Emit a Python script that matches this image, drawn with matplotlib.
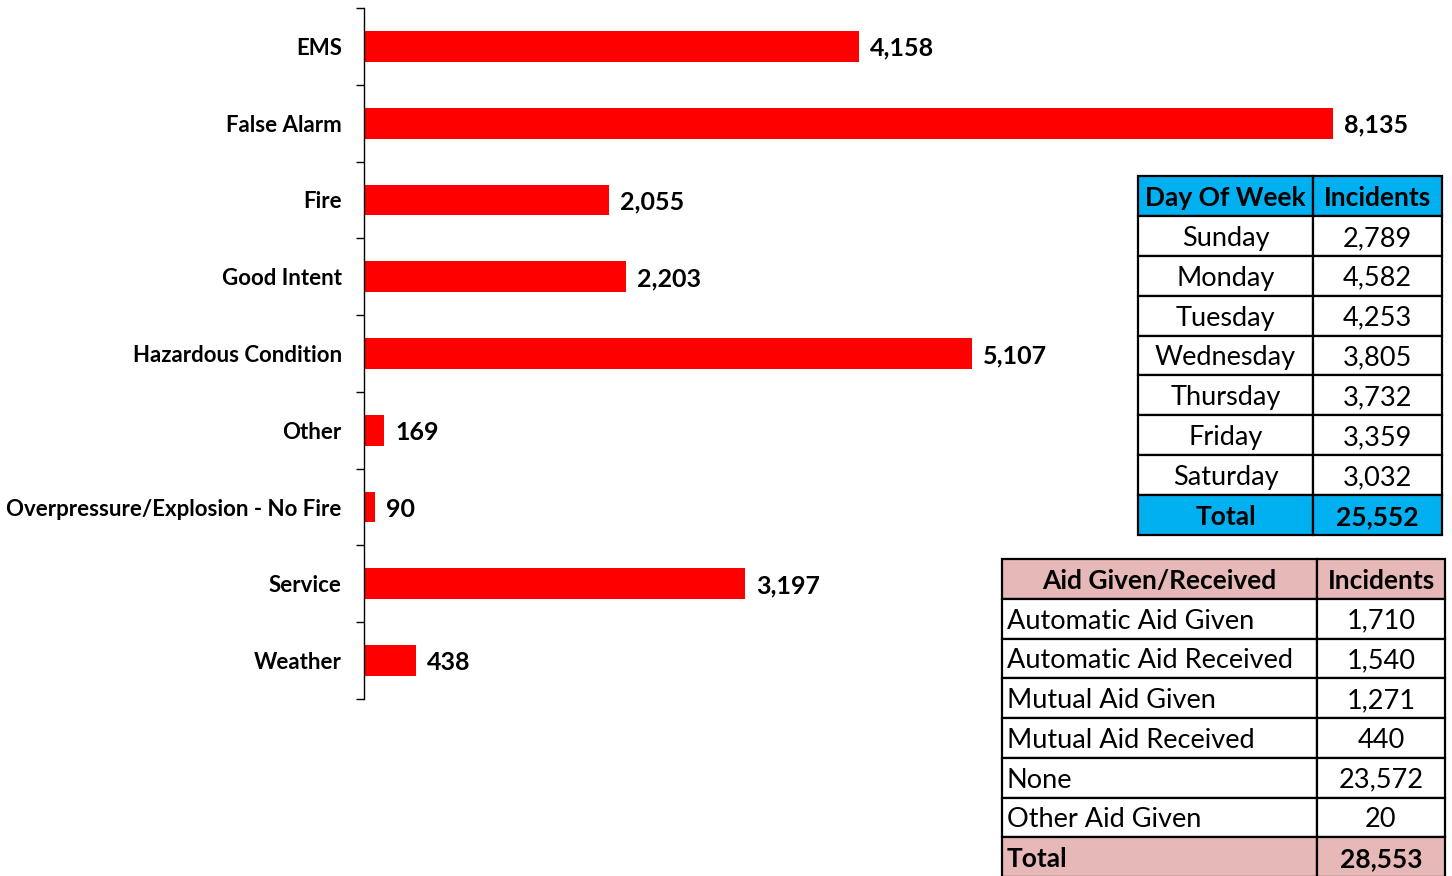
import matplotlib
matplotlib.use('Agg')
import matplotlib.pyplot as plt
import numpy as np

plt.rcParams['font.family'] = ['Lato', 'DejaVu Sans']

# incident types
categories = ['EMS', 'False Alarm', 'Fire', 'Good Intent', 'Hazardous Condition',
              'Other', 'Overpressure/Explosion - No Fire', 'Service', 'Weather']
counts = [4158, 8135, 2055, 2203, 5107, 169, 90, 3197, 438]

# day of week table
days = ['Sunday', 'Monday', 'Tuesday', 'Wednesday', 'Thursday', 'Friday', 'Saturday']
day_counts = [2789, 4582, 4253, 3805, 3732, 3359, 3032]

# aid table
aid_types = ['Automatic Aid Given', 'Automatic Aid Received', 'Mutual Aid Given',
             'Mutual Aid Received', 'None', 'Other Aid Given']
aid_counts = [1710, 1540, 1271, 440, 23572, 20]

W, H = 1452, 876
fig = plt.figure(figsize=(W / 100, H / 100), dpi=100)

def px_axes(x0, y0, x1, y1):
    # pixel box (top-left origin) -> figure axes
    return fig.add_axes([x0 / W, 1 - y1 / H, (x1 - x0) / W, (y1 - y0) / H])

ax = px_axes(364, 8, 1452, 699)
y = np.arange(len(categories))
bars = ax.barh(y, counts, height=0.4, color='#FF0000')
lbls = ax.bar_label(bars, labels=[f'{v:,}' for v in counts], padding=8,
                    fontsize=18, fontweight='bold')
for t in lbls:
    t.set_va('center_baseline')
ax.set_ylim(len(categories) - 0.5, -0.5)
ax.set_xlim(0, 9135)
ax.set_yticks(y)
ax.set_yticklabels(categories, fontsize=16, fontweight='bold')
ax.set_yticks(np.arange(len(categories) + 1) - 0.5, minor=True)
ax.tick_params(axis='y', which='major', length=0, pad=16)
ax.tick_params(axis='y', which='minor', length=6, width=1, direction='out')
ax.set_xticks([])
for s in ['top', 'right', 'bottom']:
    ax.spines[s].set_visible(False)
ax.spines['left'].set_linewidth(1)


def draw_table(box, header, rows, total, colw, color, left_first):
    tax = px_axes(*box)
    tax.axis('off')
    cells = [header] + rows + [total]
    tb = tax.table(cellText=cells, cellLoc='center', colWidths=colw,
                   bbox=[0, 0, 1, 1])
    tb.auto_set_font_size(False)
    tb.set_fontsize(19.5)
    n = len(cells)
    for (r, c), cell in tb.get_celld().items():
        cell.set_edgecolor('black')
        cell.set_linewidth(1.6)
        cell.get_text().set_va('center_baseline')
        if r == 0 or r == n - 1:
            cell.set_facecolor(color)
            cell.get_text().set_fontweight('bold')
            cell.get_text().set_fontsize(19)
        if left_first and c == 0 and r > 0:
            cell.get_text().set_ha('left')
            cell._loc = 'left'
            cell.PAD = 0.015
    return tb


draw_table((1138, 176, 1442, 535), ['Day Of Week', 'Incidents'],
           [[d, f'{v:,}'] for d, v in zip(days, day_counts)],
           ['Total', f'{sum(day_counts):,}'],
           [175, 129], '#00B0F0', False)

draw_table((1002, 559, 1445, 877), ['Aid Given/Received', 'Incidents'],
           [[a, f'{v:,}'] for a, v in zip(aid_types, aid_counts)],
           ['Total', f'{sum(aid_counts):,}'],
           [315, 128], '#E6B8B7', True)

fig.savefig('out.png', dpi=100)
